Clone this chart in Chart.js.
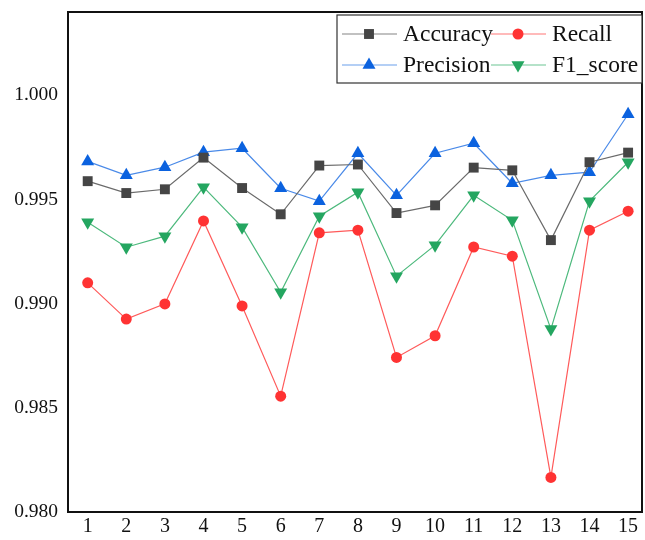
<!DOCTYPE html>
<html>
<head>
<meta charset="utf-8">
<script src="https://cdn.jsdelivr.net/npm/chart.js@4.4.1/dist/chart.umd.min.js"></script>
<style>
  html, body { margin: 0; padding: 0; background: #fff; }
  #wrap { width: 645px; height: 540px; }
</style>
</head>
<body>
<div id="wrap"><canvas id="c" width="645" height="540"></canvas></div>
<script>
const categories = [1, 2, 3, 4, 5, 6, 7, 8, 9, 10, 11, 12, 13, 14, 15]
const yTicks = [0.980, 0.985, 0.990, 0.995, 1.000]

const accuracy  = [0.99588, 0.99531, 0.99549, 0.99701, 0.99555, 0.99429, 0.99663, 0.99668, 0.99435, 0.99472, 0.99653, 0.99640, 0.99305, 0.99679, 0.99725]
const recall    = [0.99100, 0.98926, 0.98999, 0.99397, 0.98989, 0.98556, 0.99340, 0.99353, 0.98742, 0.98846, 0.99272, 0.99228, 0.98166, 0.99353, 0.99444]
const precision = [0.99683, 0.99616, 0.99655, 0.99727, 0.99746, 0.99554, 0.99492, 0.99722, 0.99520, 0.99722, 0.99770, 0.99578, 0.99616, 0.99631, 0.99909]
const f1score   = [0.99391, 0.99271, 0.99324, 0.99559, 0.99367, 0.99055, 0.99420, 0.99535, 0.99132, 0.99281, 0.99520, 0.99400, 0.98878, 0.99492, 0.99679]

const serif = "'Liberation Serif', 'Times New Roman', serif"

function pts(vals) {
  return categories.map((c, i) => ({ x: c, y: vals[i] }))
}

function series(label, vals, line, fill, style, radius, rotation) {
  return {
    label: label,
    data: pts(vals),
    borderColor: line,
    borderWidth: 1.2,
    backgroundColor: fill,
    pointBackgroundColor: fill,
    pointBorderColor: fill,
    pointBorderWidth: 0,
    pointStyle: style,
    pointRadius: radius,
    pointRotation: rotation || 0,
    pointHoverRadius: radius,
    tension: 0,
    clip: false,
    legendLine: line
  }
}

// frame around plot + legend box inside top-right corner
const framePlugin = {
  id: 'frame',
  afterDraw(chart) {
    const ctx = chart.ctx
    const a = chart.chartArea
    ctx.save()
    ctx.strokeStyle = '#111'
    ctx.lineWidth = 2
    ctx.strokeRect(a.left, a.top, a.right - a.left, a.bottom - a.top)

    const bx = a.right - 305, by = a.top + 3, bw = 305, bh = 68
    ctx.fillStyle = '#fff'
    ctx.fillRect(bx, by, bw, bh)
    ctx.lineWidth = 1.2
    ctx.strokeStyle = '#333'
    ctx.strokeRect(bx, by, bw, bh)

    const cols = [5, 154]
    const rows = [19, 50]
    ctx.font = '23.5px ' + serif
    ctx.textBaseline = 'middle'
    chart.data.datasets.forEach((ds, i) => {
      const x0 = bx + cols[i % 2]
      const y0 = by + rows[Math.floor(i / 2)]
      ctx.strokeStyle = ds.legendLine
      ctx.globalAlpha = 0.55
      ctx.lineWidth = 1.5
      ctx.beginPath()
      ctx.moveTo(x0, y0)
      ctx.lineTo(x0 + 55, y0)
      ctx.stroke()
      ctx.globalAlpha = 1
      ctx.fillStyle = ds.pointBackgroundColor
      ctx.strokeStyle = ds.pointBackgroundColor
      Chart.helpers.drawPoint(ctx, {
        pointStyle: ds.pointStyle,
        rotation: ds.pointRotation,
        radius: ds.pointRadius,
        borderWidth: 0
      }, x0 + 27, y0)
      ctx.fillStyle = '#111'
      ctx.fillText(ds.label, x0 + 61, y0 + 1)
    })
    ctx.restore()
  }
}

new Chart(document.getElementById('c'), {
  type: 'line',
  data: {
    datasets: [
      series('Accuracy', accuracy, '#6a6a6a', '#454545', 'rect', 7),
      series('Recall', recall, '#ff5a5a', '#ff3333', 'circle', 5.5),
      series('Precision', precision, '#4a8ae8', '#0b62df', 'triangle', 7.5),
      series('F1_score', f1score, '#4cb97c', '#24a660', 'triangle', 7.5, 180)
    ]
  },
  options: {
    responsive: false,
    animation: false,
    layout: { autoPadding: false, padding: { top: 12, right: 3, left: 0, bottom: 0 } },
    plugins: {
      legend: { display: false },
      tooltip: { enabled: false }
    },
    scales: {
      x: {
        type: 'linear',
        min: 0.49,
        max: 15.36,
        grid: { display: false, drawTicks: false },
        border: { display: false },
        afterBuildTicks: s => { s.ticks = categories.map(v => ({ value: v })) },
        afterFit: s => { s.height = 28; s.paddingLeft = 0; s.paddingRight = 0 },
        ticks: {
          color: '#111',
          padding: 3,
          font: { family: serif, size: 20 },
          callback: v => String(v)
        }
      },
      y: {
        min: 0.980,
        max: 1.004,
        grid: { display: false, drawTicks: false },
        border: { display: false },
        afterBuildTicks: s => { s.ticks = yTicks.map(v => ({ value: v })) },
        afterFit: s => { s.width = 68; s.paddingTop = 0; s.paddingBottom = 0 },
        ticks: {
          color: '#111',
          padding: 10,
          font: { family: serif, size: 19.5 },
          callback: v => v.toFixed(3)
        }
      }
    }
  },
  plugins: [framePlugin]
})
</script>
</body>
</html>
